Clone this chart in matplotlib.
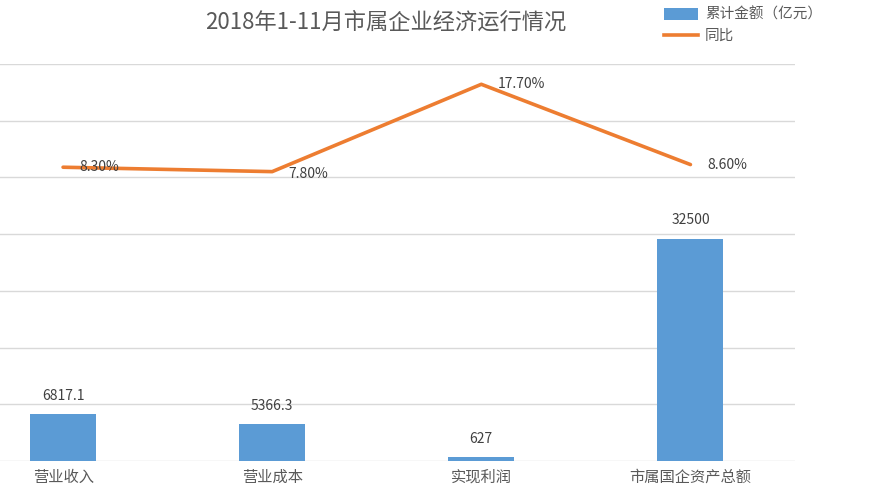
import numpy as np
import matplotlib
matplotlib.use('Agg')
from matplotlib import pyplot as plt
from matplotlib.patches import Patch
from matplotlib.lines import Line2D

# Data
categories = ['营业收入', '营业成本', '实现利润', '市属国企资产总额']
amounts = [6817.1, 5366.3, 627, 32500]
amount_labels = ['6817.1', '5366.3', '627', '32500']
growth = [8.30, 7.80, 17.70, 8.60]
growth_labels = ['8.30%', '7.80%', '17.70%', '8.60%']

title_text = '2018年1-11月市属企业经济运行情况'
bar_name = '累计金额（亿元）'
line_name = '同比'

plt.rcParams['font.family'] = ['Noto Sans CJK SC', 'DejaVu Sans']

bar_color = '#5B9BD5'
line_color = '#ED7D31'
text_color = '#404040'
grid_color = '#D9D9D9'

W, H = 869, 500
fig = plt.figure(figsize=(W / 100, H / 100), dpi=100)

# plot area: left edge runs off the image, as in the reference
left_px, right_px, top_px, bottom_px = -41.5, 795, 64, 461
ax = fig.add_axes([left_px / W, 1 - bottom_px / H,
                   (right_px - left_px) / W, (bottom_px - top_px) / H])
x = np.arange(len(categories))

bar_max = 58000
ax.set_xlim(-0.5, len(categories) - 0.5)
ax.set_ylim(0, bar_max)
ax.set_yticks(np.linspace(0, bar_max, 8))
ax.yaxis.grid(True, color=grid_color, linewidth=1.0)
ax.set_axisbelow(True)
for s in ax.spines.values():
    s.set_visible(False)
ax.tick_params(axis='y', left=False, labelleft=False)
ax.tick_params(axis='x', bottom=False, pad=2)
ax.set_xticks(x)
ax.set_xticklabels(categories, fontsize=11, color='#595959')

bars = ax.bar(x, amounts, width=0.316, color=bar_color, zorder=2)
for xi, v, lab in zip(x, amounts, amount_labels):
    ax.annotate(lab, (xi, v), xytext=(0, 8), textcoords='offset points',
                ha='center', va='bottom', fontsize=10, color=text_color)

# secondary axis for the growth line
ax2 = ax.twinx()
ax2.set_ylim(-25, 20)
ax2.axis('off')
ax2.plot(x, growth, color=line_color, linewidth=2.6, solid_capstyle='round', zorder=3)
for xi, v, lab in zip(x, growth, growth_labels):
    dy = -2 if lab == '7.80%' else 0
    ax2.annotate(lab, (xi, v), xytext=(12, dy), textcoords='offset points',
                 ha='left', va='center', fontsize=10, color=text_color)

fig.text(385.5 / W, 1 - 22 / H, title_text, ha='center', va='center',
         fontsize=16, color='#595959')

handles = [Patch(facecolor=bar_color, edgecolor='none'),
           Line2D([0], [0], color=line_color, linewidth=2.6)]
fig.legend(handles, [bar_name, line_name], loc='upper left',
           bbox_to_anchor=(651 / W, 1.011), frameon=False, fontsize=10.5,
           handlelength=2.3, handleheight=0.9, handletextpad=0.5,
           labelspacing=0.5, labelcolor='#595959')

fig.savefig('out.png', dpi=100)
